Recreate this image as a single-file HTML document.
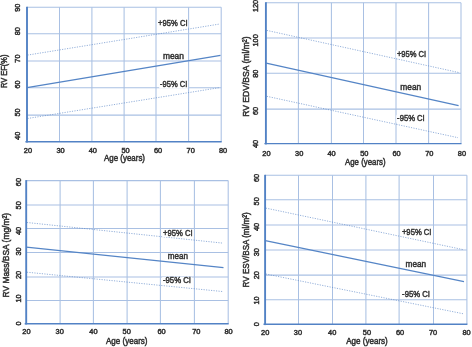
<!DOCTYPE html><html><head><meta charset="utf-8"><style>html,body{margin:0;padding:0;background:#fff;overflow:hidden;}svg{display:block;will-change:transform;}</style></head><body>
<svg width="472" height="347" viewBox="0 0 472 347" font-family='"Liberation Sans", sans-serif'>
<rect width="472" height="347" fill="#fff"/>
<line x1="59.5" y1="7.2" x2="59.5" y2="141.7" stroke="#a9c0e3" stroke-width="1.05"/>
<line x1="91.9" y1="7.2" x2="91.9" y2="141.7" stroke="#a9c0e3" stroke-width="1.05"/>
<line x1="124.1" y1="7.2" x2="124.1" y2="141.7" stroke="#a9c0e3" stroke-width="1.05"/>
<line x1="156.0" y1="7.2" x2="156.0" y2="141.7" stroke="#a9c0e3" stroke-width="1.05"/>
<line x1="188.6" y1="7.2" x2="188.6" y2="141.7" stroke="#a9c0e3" stroke-width="1.05"/>
<line x1="221.2" y1="7.2" x2="221.2" y2="141.7" stroke="#a9c0e3" stroke-width="1.05"/>
<line x1="26.9" y1="7.2" x2="221.2" y2="7.2" stroke="#a9c0e3" stroke-width="1.05"/>
<line x1="26.9" y1="33.8" x2="221.2" y2="33.8" stroke="#a9c0e3" stroke-width="1.05"/>
<line x1="26.9" y1="61.0" x2="221.2" y2="61.0" stroke="#a9c0e3" stroke-width="1.05"/>
<line x1="26.9" y1="87.8" x2="221.2" y2="87.8" stroke="#a9c0e3" stroke-width="1.05"/>
<line x1="26.9" y1="115.1" x2="221.2" y2="115.1" stroke="#a9c0e3" stroke-width="1.05"/>
<line x1="27.5" y1="55.1" x2="219.8" y2="24.0" stroke="#5b86c6" stroke-width="1.0" stroke-dasharray="1.2 1.3" opacity="0.65"/>
<line x1="27" y1="87.7" x2="220.5" y2="55.4" stroke="#5585c6" stroke-width="1.3"/>
<line x1="27.5" y1="118.5" x2="219.8" y2="87.6" stroke="#5b86c6" stroke-width="1.0" stroke-dasharray="1.2 1.3" opacity="0.65"/>
<rect x="157.30" y="19.80" width="31.00" height="7.4" fill="#fff"/>
<text x="158.1" y="26.0" font-size="9.3" fill="#333333" stroke="#333333" stroke-width="0.5" textLength="29.40" lengthAdjust="spacingAndGlyphs">+95% CI</text>
<rect x="162.10" y="52.30" width="22.70" height="7.4" fill="#fff"/>
<text x="162.9" y="58.5" font-size="9.3" fill="#333333" stroke="#333333" stroke-width="0.5" textLength="21.10" lengthAdjust="spacingAndGlyphs">mean</text>
<rect x="159.20" y="81.10" width="28.90" height="7.4" fill="#fff"/>
<text x="160.0" y="87.3" font-size="9.3" fill="#333333" stroke="#333333" stroke-width="0.5" textLength="27.30" lengthAdjust="spacingAndGlyphs">-95% CI</text>
<line x1="27.0" y1="6.7" x2="27.0" y2="142.5" stroke="#5282c5" stroke-width="1.9"/>
<line x1="25.4" y1="141.7" x2="221.7" y2="141.7" stroke="#5282c5" stroke-width="1.45"/>
<text x="27.90" y="153.1" font-size="7.4" fill="#333333" stroke="#333333" stroke-width="0.5" text-anchor="middle">20</text>
<text x="60.50" y="153.1" font-size="7.4" fill="#333333" stroke="#333333" stroke-width="0.5" text-anchor="middle">30</text>
<text x="92.80" y="153.1" font-size="7.4" fill="#333333" stroke="#333333" stroke-width="0.5" text-anchor="middle">40</text>
<text x="125.50" y="153.1" font-size="7.4" fill="#333333" stroke="#333333" stroke-width="0.5" text-anchor="middle">50</text>
<text x="158.00" y="153.1" font-size="7.4" fill="#333333" stroke="#333333" stroke-width="0.5" text-anchor="middle">60</text>
<text x="190.70" y="153.1" font-size="7.4" fill="#333333" stroke="#333333" stroke-width="0.5" text-anchor="middle">70</text>
<text x="223.10" y="153.1" font-size="7.4" fill="#333333" stroke="#333333" stroke-width="0.5" text-anchor="middle">80</text>
<text transform="translate(19.60,7.70) rotate(-90)" font-size="7.4" fill="#333333" stroke="#333333" stroke-width="0.5" text-anchor="middle">90</text>
<text transform="translate(19.60,31.20) rotate(-90)" font-size="7.4" fill="#333333" stroke="#333333" stroke-width="0.5" text-anchor="middle">80</text>
<text transform="translate(19.60,58.60) rotate(-90)" font-size="7.4" fill="#333333" stroke="#333333" stroke-width="0.5" text-anchor="middle">70</text>
<text transform="translate(19.60,84.50) rotate(-90)" font-size="7.4" fill="#333333" stroke="#333333" stroke-width="0.5" text-anchor="middle">60</text>
<text transform="translate(19.60,112.40) rotate(-90)" font-size="7.4" fill="#333333" stroke="#333333" stroke-width="0.5" text-anchor="middle">50</text>
<text transform="translate(19.60,135.80) rotate(-90)" font-size="7.4" fill="#333333" stroke="#333333" stroke-width="0.5" text-anchor="middle">40</text>
<text x="104.0" y="161.2" font-size="8.9" fill="#333333" stroke="#333333" stroke-width="0.5" textLength="41.00" lengthAdjust="spacingAndGlyphs">Age (years)</text>
<text transform="translate(7.0,88.0) rotate(-90)" font-size="9.0" fill="#333333" stroke="#333333" stroke-width="0.5" textLength="33.50" lengthAdjust="spacingAndGlyphs">RV EF(%)</text>
<line x1="298.4" y1="2.7" x2="298.4" y2="143.5" stroke="#a9c0e3" stroke-width="1.05"/>
<line x1="331.4" y1="2.7" x2="331.4" y2="143.5" stroke="#a9c0e3" stroke-width="1.05"/>
<line x1="363.5" y1="2.7" x2="363.5" y2="143.5" stroke="#a9c0e3" stroke-width="1.05"/>
<line x1="396.0" y1="2.7" x2="396.0" y2="143.5" stroke="#a9c0e3" stroke-width="1.05"/>
<line x1="428.6" y1="2.7" x2="428.6" y2="143.5" stroke="#a9c0e3" stroke-width="1.05"/>
<line x1="461.0" y1="2.7" x2="461.0" y2="143.5" stroke="#a9c0e3" stroke-width="1.05"/>
<line x1="265.9" y1="2.7" x2="461.0" y2="2.7" stroke="#a9c0e3" stroke-width="1.05"/>
<line x1="265.9" y1="37.9" x2="461.0" y2="37.9" stroke="#a9c0e3" stroke-width="1.05"/>
<line x1="265.9" y1="73.3" x2="461.0" y2="73.3" stroke="#a9c0e3" stroke-width="1.05"/>
<line x1="265.9" y1="109.1" x2="461.0" y2="109.1" stroke="#a9c0e3" stroke-width="1.05"/>
<line x1="266.8" y1="30.4" x2="458.6" y2="72.5" stroke="#5b86c6" stroke-width="1.0" stroke-dasharray="1.2 1.3" opacity="0.65"/>
<line x1="266.2" y1="63.1" x2="458.6" y2="105.6" stroke="#5585c6" stroke-width="1.3"/>
<line x1="266.8" y1="96.3" x2="458.0" y2="137.7" stroke="#5b86c6" stroke-width="1.0" stroke-dasharray="1.2 1.3" opacity="0.65"/>
<rect x="396.10" y="50.50" width="30.90" height="7.4" fill="#fff"/>
<text x="396.9" y="56.7" font-size="9.3" fill="#333333" stroke="#333333" stroke-width="0.5" textLength="29.30" lengthAdjust="spacingAndGlyphs">+95% CI</text>
<rect x="399.50" y="84.20" width="22.50" height="7.4" fill="#fff"/>
<text x="400.3" y="90.4" font-size="9.3" fill="#333333" stroke="#333333" stroke-width="0.5" textLength="20.90" lengthAdjust="spacingAndGlyphs">mean</text>
<rect x="396.30" y="115.20" width="29.20" height="7.4" fill="#fff"/>
<text x="397.1" y="121.4" font-size="9.3" fill="#333333" stroke="#333333" stroke-width="0.5" textLength="27.60" lengthAdjust="spacingAndGlyphs">-95% CI</text>
<line x1="265.9" y1="2.2" x2="265.9" y2="144.4" stroke="#5282c5" stroke-width="1.9"/>
<line x1="264.4" y1="143.6" x2="461.5" y2="143.6" stroke="#5282c5" stroke-width="1.45"/>
<text x="266.40" y="155.5" font-size="7.4" fill="#333333" stroke="#333333" stroke-width="0.5" text-anchor="middle">20</text>
<text x="299.20" y="155.5" font-size="7.4" fill="#333333" stroke="#333333" stroke-width="0.5" text-anchor="middle">30</text>
<text x="331.60" y="155.5" font-size="7.4" fill="#333333" stroke="#333333" stroke-width="0.5" text-anchor="middle">40</text>
<text x="364.30" y="155.5" font-size="7.4" fill="#333333" stroke="#333333" stroke-width="0.5" text-anchor="middle">50</text>
<text x="396.60" y="155.5" font-size="7.4" fill="#333333" stroke="#333333" stroke-width="0.5" text-anchor="middle">60</text>
<text x="429.30" y="155.5" font-size="7.4" fill="#333333" stroke="#333333" stroke-width="0.5" text-anchor="middle">70</text>
<text x="461.90" y="155.5" font-size="7.4" fill="#333333" stroke="#333333" stroke-width="0.5" text-anchor="middle">80</text>
<text transform="translate(258.20,5.95) rotate(-90)" font-size="7.4" fill="#333333" stroke="#333333" stroke-width="0.5" text-anchor="middle">120</text>
<text transform="translate(258.20,40.40) rotate(-90)" font-size="7.4" fill="#333333" stroke="#333333" stroke-width="0.5" text-anchor="middle">100</text>
<text transform="translate(258.20,73.70) rotate(-90)" font-size="7.4" fill="#333333" stroke="#333333" stroke-width="0.5" text-anchor="middle">80</text>
<text transform="translate(258.20,111.00) rotate(-90)" font-size="7.4" fill="#333333" stroke="#333333" stroke-width="0.5" text-anchor="middle">60</text>
<text transform="translate(258.20,143.90) rotate(-90)" font-size="7.4" fill="#333333" stroke="#333333" stroke-width="0.5" text-anchor="middle">40</text>
<text x="345.0" y="165.1" font-size="8.9" fill="#333333" stroke="#333333" stroke-width="0.5" textLength="40.60" lengthAdjust="spacingAndGlyphs">Age (years)</text>
<text transform="translate(248.6,116.8) rotate(-90)" font-size="9.0" fill="#333333" stroke="#333333" stroke-width="0.5" textLength="80.40" lengthAdjust="spacingAndGlyphs">RV EDV/BSA (ml/m²)</text>
<line x1="60.1" y1="180.6" x2="60.1" y2="323.6" stroke="#a9c0e3" stroke-width="1.05"/>
<line x1="93.4" y1="180.6" x2="93.4" y2="323.6" stroke="#a9c0e3" stroke-width="1.05"/>
<line x1="127.1" y1="180.6" x2="127.1" y2="323.6" stroke="#a9c0e3" stroke-width="1.05"/>
<line x1="160.4" y1="180.6" x2="160.4" y2="323.6" stroke="#a9c0e3" stroke-width="1.05"/>
<line x1="194.4" y1="180.6" x2="194.4" y2="323.6" stroke="#a9c0e3" stroke-width="1.05"/>
<line x1="228.2" y1="180.6" x2="228.2" y2="323.6" stroke="#a9c0e3" stroke-width="1.05"/>
<line x1="26.2" y1="180.6" x2="228.2" y2="180.6" stroke="#a9c0e3" stroke-width="1.05"/>
<line x1="26.2" y1="205.0" x2="228.2" y2="205.0" stroke="#a9c0e3" stroke-width="1.05"/>
<line x1="26.2" y1="228.4" x2="228.2" y2="228.4" stroke="#a9c0e3" stroke-width="1.05"/>
<line x1="26.2" y1="252.4" x2="228.2" y2="252.4" stroke="#a9c0e3" stroke-width="1.05"/>
<line x1="26.2" y1="276.9" x2="228.2" y2="276.9" stroke="#a9c0e3" stroke-width="1.05"/>
<line x1="26.2" y1="300.5" x2="228.2" y2="300.5" stroke="#a9c0e3" stroke-width="1.05"/>
<line x1="26.9" y1="222.5" x2="222.6" y2="243.1" stroke="#5b86c6" stroke-width="1.0" stroke-dasharray="1.2 1.3" opacity="0.65"/>
<line x1="26.3" y1="247.2" x2="223.5" y2="267.7" stroke="#5585c6" stroke-width="1.3"/>
<line x1="26.9" y1="272.2" x2="222.3" y2="291.5" stroke="#5b86c6" stroke-width="1.0" stroke-dasharray="1.2 1.3" opacity="0.65"/>
<rect x="162.30" y="229.50" width="31.20" height="7.4" fill="#fff"/>
<text x="163.1" y="235.7" font-size="9.3" fill="#333333" stroke="#333333" stroke-width="0.5" textLength="29.60" lengthAdjust="spacingAndGlyphs">+95% CI</text>
<rect x="167.00" y="253.00" width="21.90" height="7.4" fill="#fff"/>
<text x="167.8" y="259.2" font-size="9.3" fill="#333333" stroke="#333333" stroke-width="0.5" textLength="20.30" lengthAdjust="spacingAndGlyphs">mean</text>
<rect x="162.10" y="277.10" width="29.70" height="7.4" fill="#fff"/>
<text x="162.9" y="283.3" font-size="9.3" fill="#333333" stroke="#333333" stroke-width="0.5" textLength="28.10" lengthAdjust="spacingAndGlyphs">-95% CI</text>
<line x1="26.2" y1="180.1" x2="26.2" y2="324.5" stroke="#5282c5" stroke-width="1.9"/>
<line x1="24.7" y1="323.7" x2="228.7" y2="323.7" stroke="#5282c5" stroke-width="1.45"/>
<text x="26.40" y="334.4" font-size="7.4" fill="#333333" stroke="#333333" stroke-width="0.5" text-anchor="middle">20</text>
<text x="59.70" y="334.4" font-size="7.4" fill="#333333" stroke="#333333" stroke-width="0.5" text-anchor="middle">30</text>
<text x="93.40" y="334.4" font-size="7.4" fill="#333333" stroke="#333333" stroke-width="0.5" text-anchor="middle">40</text>
<text x="126.70" y="334.4" font-size="7.4" fill="#333333" stroke="#333333" stroke-width="0.5" text-anchor="middle">50</text>
<text x="161.50" y="334.4" font-size="7.4" fill="#333333" stroke="#333333" stroke-width="0.5" text-anchor="middle">60</text>
<text x="196.30" y="334.4" font-size="7.4" fill="#333333" stroke="#333333" stroke-width="0.5" text-anchor="middle">70</text>
<text x="228.50" y="334.4" font-size="7.4" fill="#333333" stroke="#333333" stroke-width="0.5" text-anchor="middle">80</text>
<text transform="translate(20.60,182.10) rotate(-90)" font-size="7.4" fill="#333333" stroke="#333333" stroke-width="0.5" text-anchor="middle">60</text>
<text transform="translate(20.60,205.30) rotate(-90)" font-size="7.4" fill="#333333" stroke="#333333" stroke-width="0.5" text-anchor="middle">50</text>
<text transform="translate(20.60,231.00) rotate(-90)" font-size="7.4" fill="#333333" stroke="#333333" stroke-width="0.5" text-anchor="middle">40</text>
<text transform="translate(20.60,251.50) rotate(-90)" font-size="7.4" fill="#333333" stroke="#333333" stroke-width="0.5" text-anchor="middle">30</text>
<text transform="translate(20.60,274.90) rotate(-90)" font-size="7.4" fill="#333333" stroke="#333333" stroke-width="0.5" text-anchor="middle">20</text>
<text transform="translate(20.60,298.50) rotate(-90)" font-size="7.4" fill="#333333" stroke="#333333" stroke-width="0.5" text-anchor="middle">10</text>
<text transform="translate(20.60,323.40) rotate(-90)" font-size="7.4" fill="#333333" stroke="#333333" stroke-width="0.5" text-anchor="middle">0</text>
<text x="106.0" y="343.9" font-size="8.9" fill="#333333" stroke="#333333" stroke-width="0.5" textLength="41.50" lengthAdjust="spacingAndGlyphs">Age (years)</text>
<text transform="translate(9.2,297.5) rotate(-90)" font-size="9.0" fill="#333333" stroke="#333333" stroke-width="0.5" textLength="84.60" lengthAdjust="spacingAndGlyphs">RV Mass/BSA (mg/m²)</text>
<line x1="298.5" y1="175.3" x2="298.5" y2="324.2" stroke="#a9c0e3" stroke-width="1.05"/>
<line x1="332.5" y1="175.3" x2="332.5" y2="324.2" stroke="#a9c0e3" stroke-width="1.05"/>
<line x1="365.9" y1="175.3" x2="365.9" y2="324.2" stroke="#a9c0e3" stroke-width="1.05"/>
<line x1="399.1" y1="175.3" x2="399.1" y2="324.2" stroke="#a9c0e3" stroke-width="1.05"/>
<line x1="433.5" y1="175.3" x2="433.5" y2="324.2" stroke="#a9c0e3" stroke-width="1.05"/>
<line x1="466.9" y1="175.3" x2="466.9" y2="324.2" stroke="#a9c0e3" stroke-width="1.05"/>
<line x1="265.0" y1="175.3" x2="466.9" y2="175.3" stroke="#a9c0e3" stroke-width="1.05"/>
<line x1="265.0" y1="199.8" x2="466.9" y2="199.8" stroke="#a9c0e3" stroke-width="1.05"/>
<line x1="265.0" y1="225.0" x2="466.9" y2="225.0" stroke="#a9c0e3" stroke-width="1.05"/>
<line x1="265.0" y1="250.0" x2="466.9" y2="250.0" stroke="#a9c0e3" stroke-width="1.05"/>
<line x1="265.0" y1="275.1" x2="466.9" y2="275.1" stroke="#a9c0e3" stroke-width="1.05"/>
<line x1="265.0" y1="299.8" x2="466.9" y2="299.8" stroke="#a9c0e3" stroke-width="1.05"/>
<line x1="265.8" y1="208.1" x2="463.6" y2="249.7" stroke="#5b86c6" stroke-width="1.0" stroke-dasharray="1.2 1.3" opacity="0.65"/>
<line x1="265.3" y1="240.6" x2="464.0" y2="281.6" stroke="#5585c6" stroke-width="1.3"/>
<line x1="265.8" y1="274.0" x2="463.0" y2="313.7" stroke="#5b86c6" stroke-width="1.0" stroke-dasharray="1.2 1.3" opacity="0.65"/>
<rect x="401.10" y="228.60" width="31.20" height="7.4" fill="#fff"/>
<text x="401.9" y="234.8" font-size="9.3" fill="#333333" stroke="#333333" stroke-width="0.5" textLength="29.60" lengthAdjust="spacingAndGlyphs">+95% CI</text>
<rect x="404.80" y="260.50" width="22.20" height="7.4" fill="#fff"/>
<text x="405.6" y="266.7" font-size="9.3" fill="#333333" stroke="#333333" stroke-width="0.5" textLength="20.60" lengthAdjust="spacingAndGlyphs">mean</text>
<rect x="401.30" y="290.70" width="29.50" height="7.4" fill="#fff"/>
<text x="402.1" y="296.9" font-size="9.3" fill="#333333" stroke="#333333" stroke-width="0.5" textLength="27.90" lengthAdjust="spacingAndGlyphs">-95% CI</text>
<line x1="265.1" y1="174.8" x2="265.1" y2="325.1" stroke="#5282c5" stroke-width="1.9"/>
<line x1="263.5" y1="324.3" x2="467.4" y2="324.3" stroke="#5282c5" stroke-width="1.45"/>
<text x="265.20" y="334.9" font-size="7.4" fill="#333333" stroke="#333333" stroke-width="0.5" text-anchor="middle">20</text>
<text x="297.90" y="334.9" font-size="7.4" fill="#333333" stroke="#333333" stroke-width="0.5" text-anchor="middle">30</text>
<text x="332.20" y="334.9" font-size="7.4" fill="#333333" stroke="#333333" stroke-width="0.5" text-anchor="middle">40</text>
<text x="366.90" y="334.9" font-size="7.4" fill="#333333" stroke="#333333" stroke-width="0.5" text-anchor="middle">50</text>
<text x="400.10" y="334.9" font-size="7.4" fill="#333333" stroke="#333333" stroke-width="0.5" text-anchor="middle">60</text>
<text x="433.10" y="334.9" font-size="7.4" fill="#333333" stroke="#333333" stroke-width="0.5" text-anchor="middle">70</text>
<text x="466.50" y="334.9" font-size="7.4" fill="#333333" stroke="#333333" stroke-width="0.5" text-anchor="middle">80</text>
<text transform="translate(258.60,177.90) rotate(-90)" font-size="7.4" fill="#333333" stroke="#333333" stroke-width="0.5" text-anchor="middle">60</text>
<text transform="translate(258.60,201.30) rotate(-90)" font-size="7.4" fill="#333333" stroke="#333333" stroke-width="0.5" text-anchor="middle">50</text>
<text transform="translate(258.60,226.90) rotate(-90)" font-size="7.4" fill="#333333" stroke="#333333" stroke-width="0.5" text-anchor="middle">40</text>
<text transform="translate(258.60,252.20) rotate(-90)" font-size="7.4" fill="#333333" stroke="#333333" stroke-width="0.5" text-anchor="middle">30</text>
<text transform="translate(258.60,275.20) rotate(-90)" font-size="7.4" fill="#333333" stroke="#333333" stroke-width="0.5" text-anchor="middle">20</text>
<text transform="translate(258.60,300.40) rotate(-90)" font-size="7.4" fill="#333333" stroke="#333333" stroke-width="0.5" text-anchor="middle">10</text>
<text transform="translate(258.60,324.10) rotate(-90)" font-size="7.4" fill="#333333" stroke="#333333" stroke-width="0.5" text-anchor="middle">0</text>
<text x="346.2" y="344.0" font-size="8.9" fill="#333333" stroke="#333333" stroke-width="0.5" textLength="41.60" lengthAdjust="spacingAndGlyphs">Age (years)</text>
<text transform="translate(248.6,287.4) rotate(-90)" font-size="9.0" fill="#333333" stroke="#333333" stroke-width="0.5" textLength="75.10" lengthAdjust="spacingAndGlyphs">RV ESV/BSA (ml/m²)</text>
</svg></body></html>
